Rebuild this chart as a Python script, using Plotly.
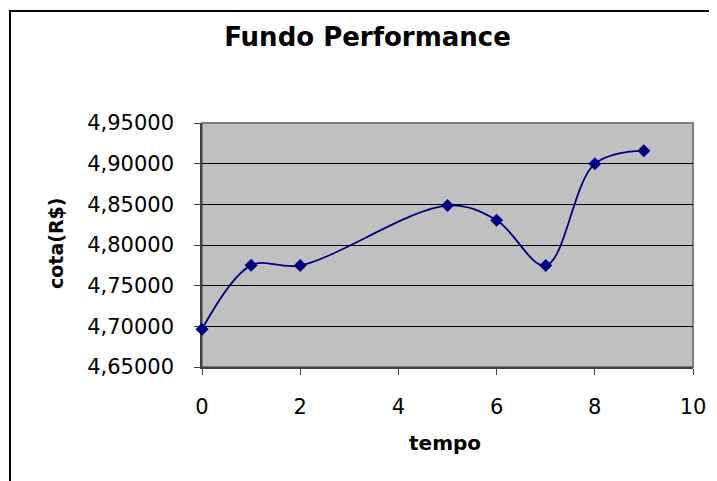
import plotly.graph_objects as go

tempo = [0, 1, 2, 5, 6, 7, 8, 9]
cota = [4.6965, 4.7750, 4.7748, 4.8485, 4.8305, 4.7748, 4.8998, 4.9160]
y_ticks = [4.65, 4.70, 4.75, 4.80, 4.85, 4.90, 4.95]
y_tick_labels = ["4,65000", "4,70000", "4,75000", "4,80000", "4,85000", "4,90000", "4,95000"]
x_ticks = [0, 2, 4, 6, 8, 10]

OFF = 8  # page body margin
W, H = 717 - OFF, 481 - OFF
L, R, T, B = 202 - OFF, 693 - OFF, 123 - OFF, 367 - OFF

fig = go.Figure()
fig.add_trace(go.Scatter(
    x=tempo, y=cota, mode="lines+markers",
    line=dict(color="#000080", width=1.8, shape="spline", smoothing=1.0),
    marker=dict(symbol="diamond", size=10, color="#000080"),
    showlegend=False, hoverinfo="skip", cliponaxis=False,
))

def px_x(p):
    return (p - OFF - L) / (R - L)

def px_y(p):
    return (B - (p - OFF)) / (B - T)

fig.update_layout(
    width=W, height=H,
    margin=dict(l=L, r=W - R, t=T, b=H - B, pad=0),
    paper_bgcolor="white",
    plot_bgcolor="#C0C0C0",
    font=dict(family="DejaVu Sans", size=21, color="black"),
    title=dict(text="<b>Fundo Performance</b>", x=(367.5 - OFF) / W, xanchor="center",
               y=1 - (37 - OFF) / H, yanchor="middle",
               font=dict(family="DejaVu Sans", size=26, color="black")),
    xaxis=dict(range=[0, 10], tickvals=x_ticks, ticktext=[str(v) for v in x_ticks],
               showgrid=False, zeroline=False, showline=True, linecolor="#404040", linewidth=1.5,
               ticks="outside", ticklen=6, tickcolor="#404040", tickwidth=1,
               ticklabelstandoff=14, layer="below traces",
               tickfont=dict(family="DejaVu Sans", size=21, color="black")),
    yaxis=dict(range=[4.65, 4.95], tickvals=y_ticks, ticktext=y_tick_labels,
               showgrid=True, gridcolor="black", gridwidth=1, zeroline=False,
               showline=True, linecolor="#404040", linewidth=1.5,
               ticks="outside", ticklen=6, tickcolor="#404040", tickwidth=1,
               ticklabelstandoff=16, layer="below traces",
               tickfont=dict(family="DejaVu Sans", size=21, color="black")),
    shapes=[
        dict(type="rect", xref="paper", yref="paper",
             x0=0, x1=1, y0=0, y1=1, line=dict(color="#808080", width=2), layer="below"),
        dict(type="rect", xref="paper", yref="paper",
             x0=px_x(10), x1=px_x(760), y0=px_y(11), y1=px_y(540),
             line=dict(color="black", width=2)),
    ],
    annotations=[
        dict(text="<b>tempo</b>", xref="paper", yref="paper", x=px_x(445), y=px_y(443),
             xanchor="center", yanchor="middle", showarrow=False,
             font=dict(family="DejaVu Sans", size=20, color="black")),
        dict(text="<b>cota(R$)</b>", xref="paper", yref="paper", x=px_x(56), y=px_y(244),
             xanchor="center", yanchor="middle", showarrow=False, textangle=-90,
             font=dict(family="DejaVu Sans", size=19, color="black")),
    ],
)

fig.write_html("out.html")
